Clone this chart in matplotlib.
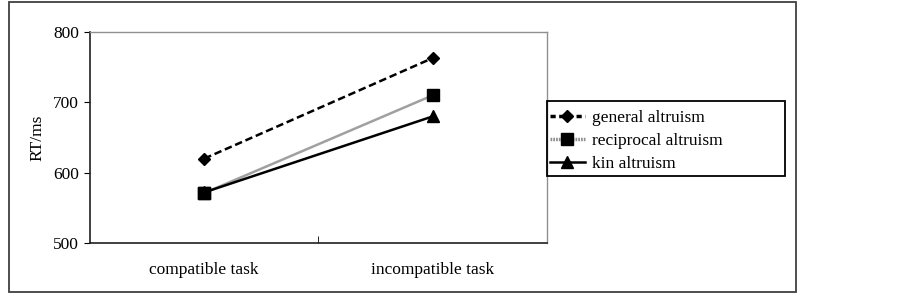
import matplotlib
matplotlib.use('Agg')
import matplotlib.pyplot as plt
from matplotlib.lines import Line2D
from matplotlib.patches import Rectangle

plt.rcParams['font.family'] = ['Liberation Serif', 'DejaVu Serif']

# data
tasks = ['compatible task', 'incompatible task']
general = [620, 763]
reciprocal = [571, 710]
kin = [572, 680]
series_names = ['general altruism', 'reciprocal altruism', 'kin altruism']

W, H = 903, 295
fig = plt.figure(figsize=(W / 100, H / 100), dpi=100)

# outer frame
fig.patches.append(Rectangle((9 / W, 3 / H), 787 / W, 290 / H, transform=fig.transFigure,
                             fill=False, edgecolor='#404040', linewidth=1.3))

ax = fig.add_axes([90 / W, (H - 243) / H, 457 / W, 211 / H])
x = [0, 1]
ax.plot(x, general, color='black', linestyle=(0, (3, 1.5)), linewidth=1.8,
        marker='D', markersize=6.5)
ax.plot(x, reciprocal, color='#a0a0a0', linewidth=1.8, marker='s', markersize=9,
        markerfacecolor='black', markeredgecolor='black')
ax.plot(x, kin, color='black', linewidth=1.8, marker='^', markersize=8)
# square drawn on top at compatible task
ax.plot([0], [reciprocal[0]], linestyle='none', marker='s', markersize=9, color='black')

ax.set_xlim(-0.5, 1.5)
ax.set_ylim(500, 800)
ax.set_yticks([500, 600, 700, 800])
ax.tick_params(axis='y', direction='out', length=4, labelsize=12.5, pad=4)
ax.set_xticks(x)
ax.set_xticklabels(tasks)
ax.tick_params(axis='x', which='major', length=0, labelsize=12.5, pad=14)
ax.set_xticks([0.5], minor=True)
ax.tick_params(axis='x', which='minor', direction='in', length=5)
ax.set_ylabel('RT/ms', fontsize=12.5)
ax.yaxis.set_label_coords(-0.098, 0.5)

for s in ['top', 'right']:
    ax.spines[s].set_color('#909090')
    ax.spines[s].set_linewidth(1.0)
for s in ['left', 'bottom']:
    ax.spines[s].set_color('#202020')
    ax.spines[s].set_linewidth(1.2)

# legend box
fig.patches.append(Rectangle((547 / W, (H - 176) / H), 238 / W, 75 / H, transform=fig.transFigure,
                             fill=False, edgecolor='black', linewidth=1.3))
handles = [
    Line2D([], [], color='black', linestyle=(0, (1.5, 1)), linewidth=2.5, marker='D', markersize=6.5),
    Line2D([], [], color='#909090', linestyle=(0, (0.5, 0.3)), linewidth=2.5, marker='s', markersize=9,
           markerfacecolor='black', markeredgecolor='black'),
    Line2D([], [], color='black', linewidth=1.8, marker='^', markersize=8),
]
fig.legend(handles, series_names, loc='upper left', bbox_to_anchor=(550 / W, 1 - 110 / H),
           frameon=False, fontsize=12.5, handlelength=2.0, handletextpad=0.4,
           labelspacing=0.4, borderaxespad=0, borderpad=0)

fig.savefig('out.png', dpi=100)
